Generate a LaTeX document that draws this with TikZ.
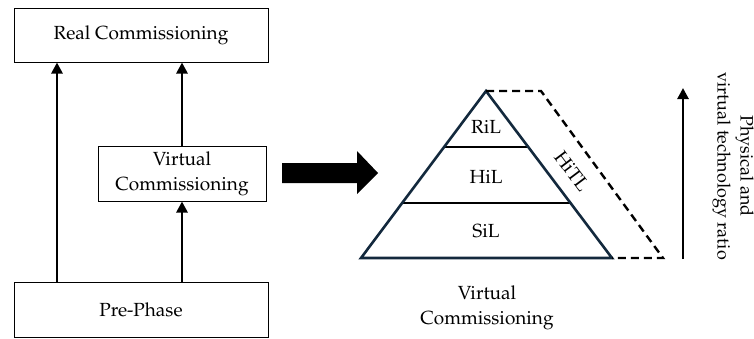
\documentclass[tikz,border=0pt]{standalone}
\usepackage[T1]{fontenc}
\usepackage{mathpazo}
\usetikzlibrary{arrows.meta,calc}
\definecolor{pyredge}{HTML}{13293D}
\tikzset{
  txt/.style={font=\fontsize{19}{25}\selectfont, inner sep=0pt, align=center},
  sidetxt/.style={font=\fontsize{18}{23}\selectfont, inner sep=0pt, align=center},
  stagebox/.style={txt, draw=black, line width=1pt},
  uparrow/.style={line width=2.6pt, -{Triangle[length=11pt,width=11pt]}},
  pyrline/.style={draw=pyredge, line width=2.6pt, line join=miter},
  layerline/.style={draw=black, line width=2.2pt},
  hitl/.style={draw=black, line width=2.4pt, dash pattern=on 8pt off 5pt},
}
\begin{document}
\begin{tikzpicture}[x=1pt,y=-1pt]
\useasboundingbox (0,0) rectangle (754,338);

% commissioning stages
\node[stagebox, minimum width=254pt, minimum height=54pt] (real) at (141,35) {Real Commissioning};
\node[stagebox, minimum width=168pt, minimum height=55pt] (vc) at (182,173.5) {Virtual\\Commissioning};
\node[stagebox, minimum width=254pt, minimum height=55pt] (pre) at (141,309.5) {Pre-Phase};

\coordinate (lx) at (57,0);
\draw[uparrow] (pre.north -| lx) -- (real.south -| lx);
\draw[uparrow] (pre.north -| vc) -- (vc.south);
\draw[uparrow] (vc.north) -- (real.south -| vc);

% block arrow
\fill[black] (282,163) -- (357,163) -- (357,151) -- (378,173) -- (357,194) -- (357,183) -- (282,183) -- cycle;

% pyramid
\coordinate (apex) at (486,91);
\coordinate (bl) at (361,258);
\coordinate (br) at (612,258);
\draw[layerline] ($(apex)!0.335!(bl)$) -- ($(apex)!0.335!(br)$);
\draw[layerline] ($(apex)!0.671!(bl)$) -- ($(apex)!0.671!(br)$);
\draw[pyrline] (apex) -- (bl) -- (br) -- cycle;

\node[txt] (ril) at (486,127) {RiL};
\node[txt] (hil) at (486,177) {HiL};
\node[txt] (sil) at (486,231) {SiL};

% hardware-in-the-loop band
\coordinate (dtop) at (541,91);
\coordinate (dbot) at (663,258);
\draw[hitl] (apex) -- (dtop) -- (dbot) -- (br);
\node[txt, rotate=-53] (hitllabel) at (572,171) {HiTL};

\node[txt] (vclabel) at (487,308) {Virtual\\Commissioning};

% ratio arrow
\coordinate (rb) at (683,259);
\coordinate (rt) at (683,88);
\draw[uparrow] (rb) -- (rt);
\node[sidetxt, rotate=-90] (ratio) at (733,166) {Physical and\\virtual technology ratio};
\end{tikzpicture}
\end{document}
